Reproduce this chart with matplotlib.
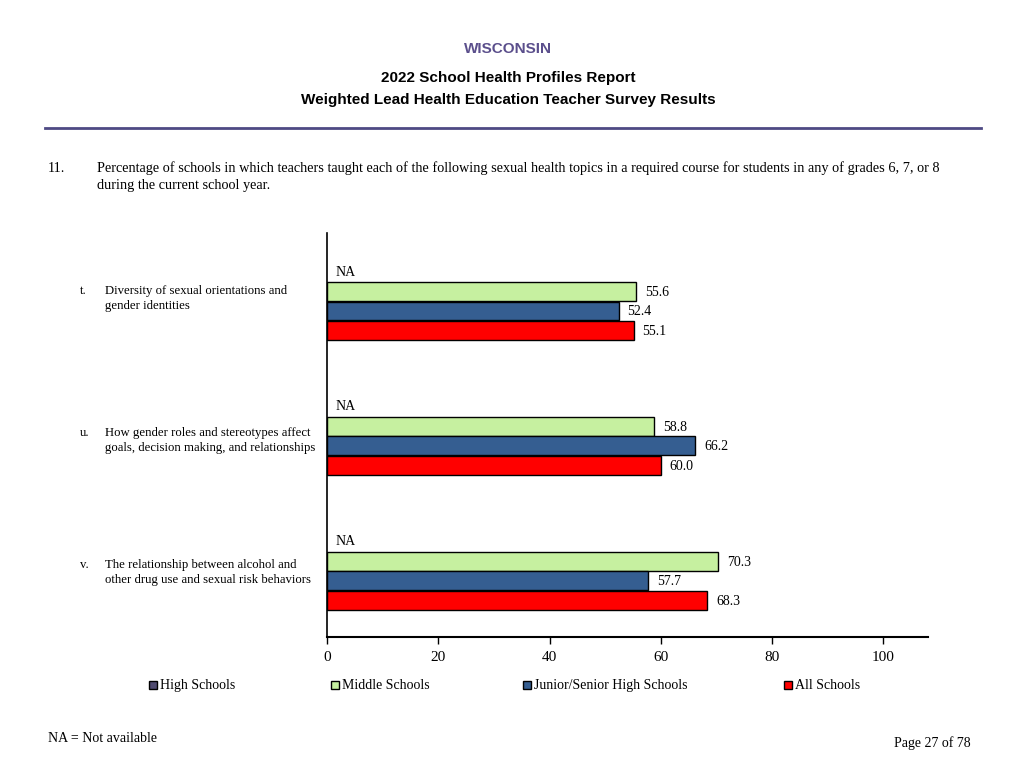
import numpy as np
import matplotlib.pyplot as plt

# data
letters = ["t.", "u.", "v."]
topics = ["Diversity of sexual orientations and\ngender identities",
          "How gender roles and stereotypes affect\ngoals, decision making, and relationships",
          "The relationship between alcohol and\nother drug use and sexual risk behaviors"]
series = ["High Schools", "Middle Schools", "Junior/Senior High Schools", "All Schools"]
high = [None, None, None]
middle = [55.6, 58.8, 70.3]
junior = [52.4, 66.2, 57.7]
all_schools = [55.1, 60.0, 68.3]
colors = ["#4f4a70", "#c6f0a0", "#355e91", "#ff0000"]
ticks = [0, 20, 40, 60, 80, 100]

serif = "Liberation Serif"
sans = "Liberation Sans"

fig = plt.figure(figsize=(10.24, 7.68), dpi=100)
W, H = 1024, 768

def px(x, y):
    return x / W, 1 - y / H

# header
fig.text(*px(508, 49), "WISCONSIN", ha="center", va="center", family=sans,
         fontweight="bold", fontsize=11, color="#5b4f8c")
fig.text(*px(508, 78), "2022 School Health Profiles Report", ha="center", va="center",
         family=sans, fontweight="bold", fontsize=11)
fig.text(*px(508, 100), "Weighted Lead Health Education Teacher Survey Results", ha="center",
         va="center", family=sans, fontweight="bold", fontsize=11)
fig.add_artist(plt.Line2D([45 / W, 981 / W], [1 - 128 / H] * 2, color="#4e4a84", lw=2))

# question
fig.text(*px(48, 168), "11.", ha="left", va="center", family=serif, fontsize=10.3)
fig.text(*px(97, 168), "Percentage of schools in which teachers taught each of the following sexual health "
         "topics in a required course for students in any of grades 6, 7, or 8",
         ha="left", va="center", family=serif, fontsize=10.3)
fig.text(*px(97, 185), "during the current school year.", ha="left", va="center", family=serif,
         fontsize=10.3)

ax = fig.add_axes([327 / W, 1 - 637 / H, (928 - 327) / W, (637 - 233) / H])

gap = 6.92
h = 0.97
vals = [high, middle, junior, all_schools]
for k, (name, v, c) in enumerate(zip(series, vals, colors)):
    for g in range(3):
        y = g * gap + k
        if v[g] is None:
            ax.text(1.6, y, "NA", va="center", ha="left", family=serif, fontsize=10)
        else:
            ax.barh(y, v[g], height=h, color=c, edgecolor="black", linewidth=1)
            ax.text(v[g] + 1.6, y + 0.05, f"{v[g]:.1f}", va="center", ha="left",
                    family=serif, fontsize=10)

ax.set_xlim(0, 108)
ax.set_ylim(-2 + 404 / 19.5, -2)
ax.set_xticks(ticks)
ax.set_xticklabels([str(t) for t in ticks], family=serif, fontsize=11)
ax.tick_params(axis="x", direction="out", length=5, width=1, pad=5)
ax.set_yticks([])
ax.spines["top"].set_visible(False)
ax.spines["right"].set_visible(False)
ax.spines["left"].set_linewidth(1.2)
ax.spines["bottom"].set_linewidth(1.5)

# category labels
label_top = [285, 427, 559]
for g in range(3):
    fig.text(*px(80, label_top[g]), letters[g], ha="left", va="top", family=serif, fontsize=9.2)
    fig.text(*px(105, label_top[g]), topics[g], ha="left", va="top", family=serif, fontsize=9.2,
             linespacing=1.35)

# legend
leg_x = [149, 331, 523, 784]
for x, name, c in zip(leg_x, series, colors):
    fig.patches.append(plt.Rectangle((x / W, 1 - 689 / H), 8 / W, 8 / H, facecolor=c,
                                     edgecolor="black", lw=1, transform=fig.transFigure))
    fig.text(*px(x + 11, 689), name, ha="left", va="baseline", family=serif, fontsize=10)

# footer
fig.text(*px(48, 738), "NA = Not available", ha="left", va="center", family=serif, fontsize=10)
fig.text(*px(971, 743), "Page 27 of 78", ha="right", va="center", family=serif, fontsize=10)

fig.savefig("out.png", dpi=100)
